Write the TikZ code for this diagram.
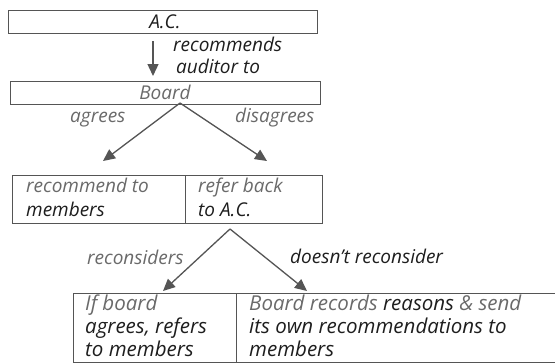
\documentclass[tikz,border=0pt]{standalone}
\usepackage{fontspec}
\setmainfont{Open Sans}
\usetikzlibrary{arrows.meta}
\definecolor{ink}{HTML}{1E1E1E}
\definecolor{pale}{HTML}{6A6A6A}
\definecolor{rule}{HTML}{555555}
\tikzset{
  box/.style={draw=rule, line width=1.1pt, rectangle, inner sep=0pt, anchor=north west},
  txt/.style={font=\itshape\fontsize{19}{19}\selectfont, inner sep=0pt, anchor=base west},
  bigtxt/.style={txt, font=\itshape\fontsize{20.5}{20.5}\selectfont},
  link/.style={draw=rule, line width=1.3pt, -{Triangle[width=11pt,length=12pt]}},
}
\begin{document}
\begin{tikzpicture}[x=1pt,y=-1pt]
\useasboundingbox (0,0) rectangle (555,364);
\fill[white] (0,0) rectangle (555,364);

% top level
\node[box, minimum width=309pt, minimum height=23pt] (ac) at (8,10) {};
\node[txt, anchor=base, text=ink] (actext) at (165,28) {A.C.};
\node[box, minimum width=310pt, minimum height=23pt] (board) at (10,81) {};
\node[txt, anchor=base, text=pale] (boardtext) at (165,99) {Board};

\coordinate (acfoot) at (153,41);
\draw[link] (acfoot) -- (153,76);
\node[txt, text=ink] (rec1) at (173,52) {recommends};
\node[txt, text=ink] (rec2) at (176,73) {auditor to};

% second level
\node[box, minimum width=173pt, minimum height=48pt] (left2) at (12,175) {};
\node[box, minimum width=137pt, minimum height=48pt] (right2) at (185,175) {};
\node[txt, text=pale] (l2a) at (26,192) {recommend to};
\node[txt, text=ink] (l2b) at (26,216) {members};
\node[txt, text=pale] (r2a) at (198,192) {refer back};
\node[txt, text=ink] (r2b) at (198,216) {to A.C.};

\coordinate (split1) at (180,103);
\coordinate (tipL1) at (103,161);
\coordinate (tipR1) at (267,161);
\draw[link] (split1) -- (tipL1);
\draw[link] (split1) -- (tipR1);
\node[txt, text=pale] (agrees) at (70,122) {agrees};
\node[txt, text=pale] (disagrees) at (235,122) {disagrees};

% third level
\node[box, minimum width=163pt, minimum height=69pt] (left3) at (73,293) {};
\node[box, minimum width=340pt, minimum height=69pt] (right3) at (236,293) {};
\node[bigtxt, text=pale] (l3a) at (85,310) {If board};
\node[bigtxt, text=ink] (l3b) at (85,333) {agrees, refers};
\node[bigtxt, text=ink] (l3c) at (85,356) {to members};
\node[bigtxt, text=pale] (r3a) at (249,310) {Board records \textcolor{ink}{reasons} \& send};
\node[bigtxt, text=ink] (r3b) at (249,333) {its own recommendations to};
\node[bigtxt, text=ink] (r3c) at (249,356) {members};

\coordinate (split2) at (230,229);
\coordinate (tipL2) at (163,291);
\coordinate (tipR2) at (307,291);
\draw[link] (split2) -- (tipL2);
\draw[link] (split2) -- (tipR2);
\node[txt, text=pale] (recons) at (87,264) {reconsiders};
\node[txt, text=ink] (norecons) at (290,263) {doesn't reconsider};
\end{tikzpicture}
\end{document}
